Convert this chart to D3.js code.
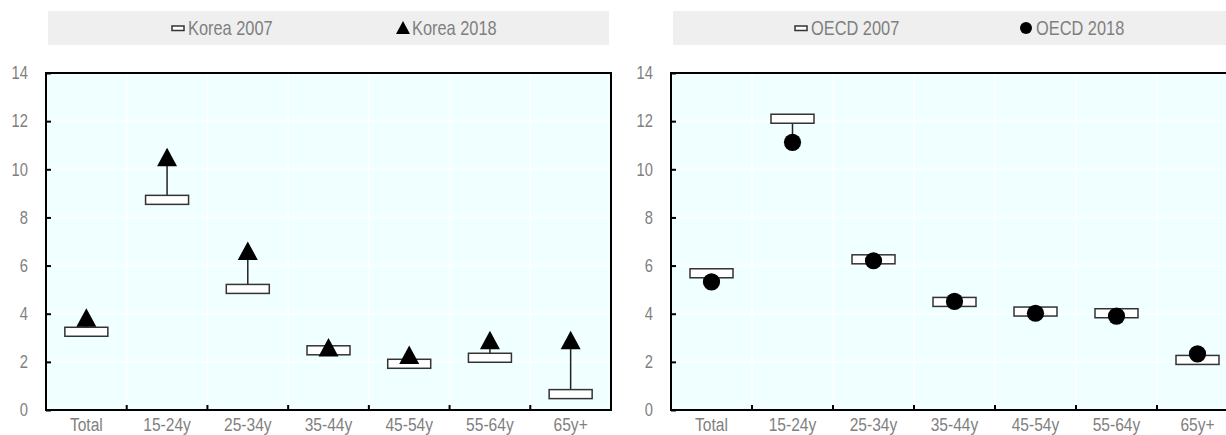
<!DOCTYPE html>
<html lang="en">
<head>
<meta charset="utf-8" />
<title>Korea vs OECD, 2007 and 2018</title>
<style>
  body { margin: 0; background: #fff; }
  svg text { font-family: "Liberation Sans", Arial, sans-serif; fill: #7f7f7f; }
  .grid line { stroke: #fff; stroke-width: 1.5px; }
  .frame { fill: none; stroke: #000; stroke-width: 2px; }
  .box { fill: #fff; stroke: #333; stroke-width: 1.5px; }
  .link { stroke: #222; stroke-width: 1.5px; }
</style>
<script src="https://cdn.jsdelivr.net/npm/d3@7"></script>
</head>
<body>
<svg id="chart" width="1226" height="435"></svg>
<script>
// data
var ageGroups = ["Total", "15-24y", "25-34y", "35-44y", "45-54y", "55-64y", "65y+"];
var korea2007 = [3.25, 8.73, 5.03, 2.48, 1.92, 2.17, 0.66];
var korea2018 = [3.83, 10.5, 6.61, 2.6, 2.29, 2.9, 2.9];
var oecd2007 = [5.68, 12.1, 6.26, 4.49, 4.09, 4.02, 2.08];
var oecd2018 = [5.32, 11.12, 6.2, 4.51, 4.02, 3.9, 2.33];
var yTicks = [0, 2, 4, 6, 8, 10, 12, 14];

var svg = d3.select("#chart");
var narrow = "scale(0.82,1)";   // fake a condensed face

function trianglePath(cx, cy) {
  return "M" + cx + "," + (cy - 9.5) + "L" + (cx + 10) + "," + (cy + 9) + "L" + (cx - 10) + "," + (cy + 9) + "Z";
}

function drawPanel(p) {
  var x = d3.scaleBand().domain(ageGroups).range([p.left, p.right]).padding(0);
  var y = d3.scaleLinear().domain([0, 14]).range([410, 73]);

  // legend strip
  var leg = svg.append("g");
  leg.append("rect")
    .attr("x", p.legX).attr("y", 11)
    .attr("width", p.legW).attr("height", 34)
    .attr("fill", "#efefef");

  leg.append("rect")
    .attr("x", p.item1).attr("y", 26)
    .attr("width", 12).attr("height", 4.5)
    .attr("fill", "#fff").attr("stroke", "#333").attr("stroke-width", 1.5);
  leg.append("text")
    .attr("transform", "translate(" + (p.item1 + 16) + ",35) " + narrow)
    .style("font-size", "20px")
    .text(p.name1);

  if (p.marker == "triangle") {
    leg.append("path").attr("d", "M" + (p.item2 + 7) + ",21L" + (p.item2 + 14) + ",34L" + p.item2 + ",34Z").attr("fill", "#000");
  } else {
    leg.append("circle").attr("cx", p.item2 + 6).attr("cy", 28).attr("r", 6).attr("fill", "#000");
  }
  leg.append("text")
    .attr("transform", "translate(" + (p.item2 + 16) + ",35) " + narrow)
    .style("font-size", "20px")
    .text(p.name2);

  // plot background
  svg.append("rect")
    .attr("x", p.left).attr("y", y(14))
    .attr("width", p.right - p.left).attr("height", y(0) - y(14))
    .attr("fill", "#f0ffff");

  // gridlines
  var grid = svg.append("g").attr("class", "grid");
  grid.selectAll(".h").data(yTicks.slice(1, -1)).enter().append("line")
    .attr("x1", p.left).attr("x2", p.right)
    .attr("y1", function(d) { return y(d); }).attr("y2", function(d) { return y(d); });
  grid.selectAll(".v").data(ageGroups.slice(1)).enter().append("line")
    .attr("x1", function(d) { return x(d); }).attr("x2", function(d) { return x(d); })
    .attr("y1", y(14)).attr("y2", y(0));

  // Y axis, ticks pointing inward
  var yAxis = svg.append("g")
    .attr("transform", "translate(" + p.left + ",0)")
    .call(d3.axisLeft(y).tickValues(yTicks).tickSize(-5).tickPadding(22));
  yAxis.select(".domain").remove();
  yAxis.selectAll(".tick line").attr("stroke", "#000").attr("stroke-width", 2);
  yAxis.selectAll(".tick text")
    .attr("transform", narrow)
    .style("font-size", "18px");

  // X axis labels at band centres
  var xAxis = svg.append("g")
    .attr("transform", "translate(0," + y(0) + ")")
    .call(d3.axisBottom(x).tickSize(0).tickPadding(8));
  xAxis.select(".domain").remove();
  xAxis.selectAll(".tick text")
    .attr("transform", narrow)
    .style("font-size", "19px");

  // tick marks between categories
  svg.append("g").selectAll("line").data(ageGroups.slice(1)).enter().append("line")
    .attr("x1", function(d) { return x(d); }).attr("x2", function(d) { return x(d); })
    .attr("y1", y(0)).attr("y2", y(0) - 5)
    .attr("stroke", "#000").attr("stroke-width", 2);

  svg.append("rect").attr("class", "frame")
    .attr("x", p.left).attr("y", y(14))
    .attr("width", p.right - p.left).attr("height", y(0) - y(14));

  // connectors, then 2007 boxes, then 2018 markers
  var cx = function(i) { return x(ageGroups[i]) + x.bandwidth() / 2; };
  var marks = svg.append("g");
  marks.selectAll(".link").data(p.v2007).enter().append("line")
    .attr("class", "link")
    .attr("x1", function(d, i) { return cx(i); }).attr("x2", function(d, i) { return cx(i); })
    .attr("y1", function(d) { return y(d); })
    .attr("y2", function(d, i) { return y(p.v2018[i]); });

  marks.selectAll(".box").data(p.v2007).enter().append("rect")
    .attr("class", "box")
    .attr("x", function(d, i) { return cx(i) - 21.5; })
    .attr("y", function(d) { return y(d) - 4.5; })
    .attr("width", 43).attr("height", 9);

  if (p.marker == "triangle") {
    marks.selectAll(".mk").data(p.v2018).enter().append("path")
      .attr("d", function(d, i) { return trianglePath(cx(i), y(d)); })
      .attr("fill", "#000");
  } else {
    marks.selectAll(".mk").data(p.v2018).enter().append("circle")
      .attr("cx", function(d, i) { return cx(i); })
      .attr("cy", function(d) { return y(d); })
      .attr("r", 8.6)
      .attr("fill", "#000");
  }
}

drawPanel({
  left: 46, right: 611, legX: 48, legW: 561,
  item1: 172, item2: 396,
  name1: "Korea 2007", name2: "Korea 2018", marker: "triangle",
  v2007: korea2007, v2018: korea2018
});

drawPanel({
  left: 671, right: 1238, legX: 673, legW: 561,
  item1: 795, item2: 1020,
  name1: "OECD 2007", name2: "OECD 2018", marker: "circle",
  v2007: oecd2007, v2018: oecd2018
});
</script>
</body>
</html>
